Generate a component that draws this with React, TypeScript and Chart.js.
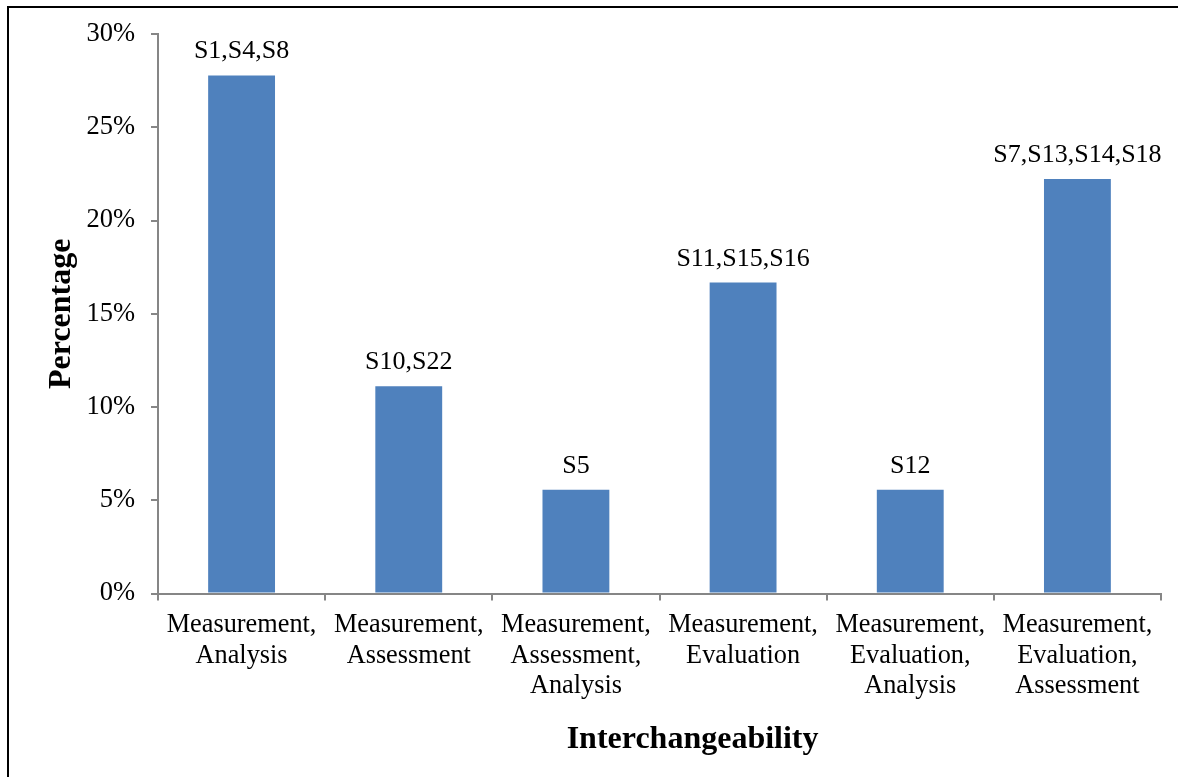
import React, { useEffect, useRef } from "react";
import { Chart, registerables } from "chart.js";

Chart.register(...registerables);

const categories: string[][] = [
  ["Measurement,", "Analysis"],
  ["Measurement,", "Assessment"],
  ["Measurement,", "Assessment,", "Analysis"],
  ["Measurement,", "Evaluation"],
  ["Measurement,", "Evaluation,", "Analysis"],
  ["Measurement,", "Evaluation,", "Assessment"],
];
const percentages: number[] = [27.78, 11.11, 5.56, 16.67, 5.56, 22.22];
const barLabels: string[] = ["S1,S4,S8", "S10,S22", "S5", "S11,S15,S16", "S12", "S7,S13,S14,S18"];
const yTicks: number[] = [0, 5, 10, 15, 20, 25, 30];
const xTitle = "Interchangeability";
const yTitle = "Percentage";

const FONT = "'Liberation Serif', 'Times New Roman', serif";
const AXIS_GREY = "#868686";

export default function App() {
  const ref = useRef<HTMLCanvasElement | null>(null);

  useEffect(() => {
    if (!ref.current) return;

    const labelPlugin = {
      id: "barLabels",
      afterDatasetsDraw(chart: any) {
        const ctx = chart.ctx;
        const meta = chart.getDatasetMeta(0);
        ctx.save();
        ctx.font = `26px ${FONT}`;
        ctx.fillStyle = "#000";
        ctx.textAlign = "center";
        ctx.textBaseline = "alphabetic";
        meta.data.forEach((bar: any, i: number) => {
          ctx.fillText(barLabels[i], bar.x, bar.y - 17);
        });
        ctx.restore();
      },
      afterDraw(chart: any) {
        const ctx = chart.ctx;
        const area = chart.chartArea;
        ctx.save();
        ctx.font = `bold 32px ${FONT}`;
        ctx.fillStyle = "#000";
        ctx.textAlign = "center";
        ctx.textBaseline = "middle";
        const cx = area.left + (area.right - area.left) * 0.533;
        ctx.fillText(xTitle, cx, area.bottom + 146);
        ctx.restore();
      },
    };

    const chart = new Chart(ref.current, {
      type: "bar",
      data: {
        labels: categories,
        datasets: [
          {
            data: percentages,
            backgroundColor: "#4F81BD",
            borderWidth: 0,
            barPercentage: 0.4,
            categoryPercentage: 1,
          },
        ],
      },
      options: {
        responsive: false,
        animation: false,
        layout: { padding: { top: 34, right: 17, left: 0, bottom: 0 } },
        plugins: {
          legend: { display: false },
          tooltip: { enabled: false },
        },
        scales: {
          x: {
            grid: {
              drawOnChartArea: false,
              drawTicks: true,
              tickLength: 7,
              color: AXIS_GREY,
              lineWidth: 2,
              offset: true,
            },
            border: { display: true, color: AXIS_GREY, width: 2 },
            ticks: {
              color: "#000",
              padding: 9,
              maxRotation: 0,
              autoSkip: false,
              font: { family: FONT, size: 26.3, lineHeight: 1.17 },
            },
            afterFit(scale: any) {
              scale.height = 183.5;
            },
          },
          y: {
            min: 0,
            max: 30,
            afterBuildTicks(scale: any) {
              scale.ticks = yTicks.map((v) => ({ value: v }));
            },
            grid: {
              drawOnChartArea: false,
              drawTicks: true,
              tickLength: 7,
              color: AXIS_GREY,
              lineWidth: 2,
            },
            border: { display: true, color: AXIS_GREY, width: 2 },
            ticks: {
              color: "#000",
              padding: 16,
              font: { family: FONT, size: 26.5 },
              callback: (v: any) => `${v}%`,
            },
            title: {
              display: true,
              text: yTitle,
              color: "#000",
              padding: { top: 43, bottom: 0 },
              font: { family: FONT, size: 32, weight: "bold", lineHeight: 1.2 },
            },
            afterFit(scale: any) {
              scale.width = 158;
            },
          },
        },
      },
      plugins: [labelPlugin],
    });

    return () => chart.destroy();
  }, []);

  return (
    <>
      <canvas
        ref={ref}
        width={1178}
        height={777}
        style={{ position: "fixed", left: 0, top: 0, display: "block" }}
      />
      <div
        style={{
          position: "fixed",
          left: 7,
          top: 6,
          width: 1171,
          height: 771,
          borderTop: "2px solid #000",
          borderLeft: "2px solid #000",
          boxSizing: "border-box",
          pointerEvents: "none",
        }}
      />
    </>
  );
}
